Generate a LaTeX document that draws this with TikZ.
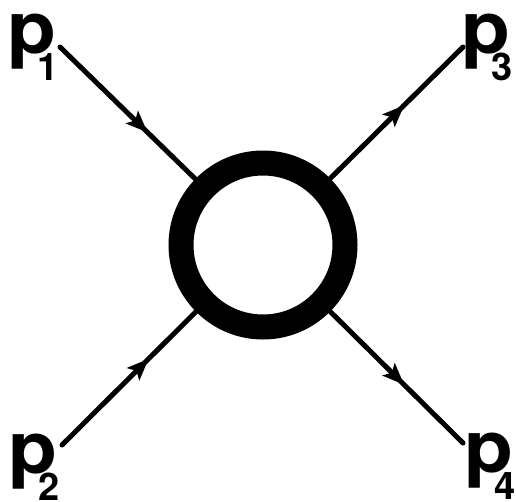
\documentclass[tikz,border=0pt]{standalone}
\usepackage{fontspec}
\setmainfont{TeX Gyre Heros}
\usetikzlibrary{arrows.meta,decorations.markings}
\newcommand{\plab}[1]{\scalebox{1}[0.9]{\bfseries\fontsize{80}{80}\selectfont p}\kern-19pt\raisebox{-27pt}{\bfseries\fontsize{38}{38}\selectfont #1}}
\tikzset{
  leg/.style={line width=5pt, line cap=round, postaction={decorate},
    decoration={markings, mark=at position #1 with {\fill (-19pt,-9pt) -- (3pt,0pt) -- (-19pt,9pt) -- (-14pt,0pt) -- cycle;}}},
  plabel/.style={anchor=base west, inner sep=0pt},
  blob/.style={circle, draw, line width=25pt, minimum size=164pt, inner sep=0pt}
}
\begin{document}
\begin{tikzpicture}[x=1pt,y=-1pt]
  \useasboundingbox[fill=white] (0,0) rectangle (516,501);
  \node[blob] (c) at (263,245) {};
  \coordinate (e1) at (60,47);
  \coordinate (e2) at (62,445);
  \coordinate (e3) at (463,47);
  \coordinate (e4) at (463,443);
  \draw[leg=0.63] (e1) -- (c);
  \draw[leg=0.63] (e2) -- (c);
  \draw[leg=0.54] (c) -- (e3);
  \draw[leg=0.54] (c) -- (e4);
  \node[plabel] (p1) at (7,53) {\plab{1}};
  \node[plabel] (p3) at (461,53) {\plab{3}};
  \node[plabel] (p2) at (8,473) {\plab{2}};
  \node[plabel] (p4) at (464,472) {\plab{4}};
\end{tikzpicture}
\end{document}
